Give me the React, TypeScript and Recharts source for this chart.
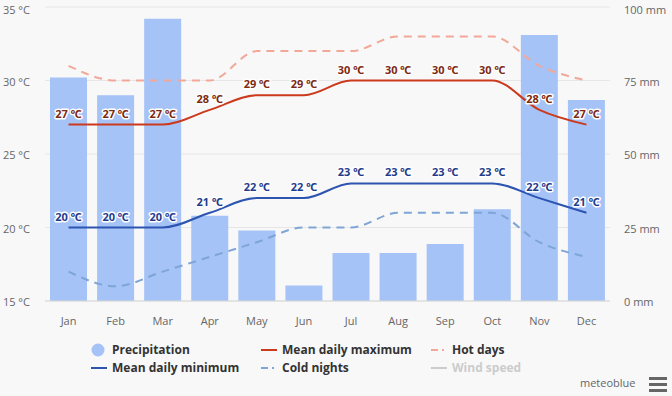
import React from 'react';
import {
  ComposedChart,
  Bar,
  Line,
  XAxis,
  YAxis,
  CartesianGrid,
  LabelList,
} from 'recharts';

const months = ['Jan', 'Feb', 'Mar', 'Apr', 'May', 'Jun', 'Jul', 'Aug', 'Sep', 'Oct', 'Nov', 'Dec'];
const precipitation = [76, 70, 96, 29, 24, 5.3, 16.3, 16.3, 19.4, 31.2, 90.5, 68.4];
const meanMax = [27, 27, 27, 28, 29, 29, 30, 30, 30, 30, 28, 27];
const meanMin = [20, 20, 20, 21, 22, 22, 23, 23, 23, 23, 22, 21];
const hotDays = [31, 30, 30, 30, 32, 32, 32, 33, 33, 33, 31, 30];
const coldNights = [17, 16, 17, 18, 19, 20, 20, 21, 21, 21, 19, 18];
const tempTicks = [15, 20, 25, 30, 35];
const precTicks = [0, 25, 50, 75, 100];

const data = months.map((m, i) => ({
  month: m,
  precip: precipitation[i],
  max: meanMax[i],
  min: meanMin[i],
  hot: hotDays[i],
  cold: coldNights[i],
}));

const FONT = '"Open Sans", "Noto Sans", sans-serif';

function tempLabel(color: string) {
  return (props: any) => {
    const { x, y, value } = props;
    return (
      <text
        x={x}
        y={y - 7}
        textAnchor="middle"
        fontSize={11}
        fontWeight="bold"
        fontFamily={FONT}
        fill={color}
        stroke="#ffffff"
        strokeWidth={3}
        strokeLinejoin="round"
        paintOrder="stroke"
      >
        {`${value} ℃`}
      </text>
    );
  };
}

// axis tick, sits ~1px below its grid line like the original
function axisTick(unit: string, anchor: 'start' | 'end') {
  return (props: any) => {
    const { x, y, payload } = props;
    return (
      <text x={x} y={y + 5} textAnchor={anchor} fontSize={11} fill="#666" fontFamily={FONT}>
        {`${payload.value} ${unit}`}
      </text>
    );
  };
}

const legendText: React.CSSProperties = {
  position: 'absolute',
  fontFamily: FONT,
  fontSize: 12,
  fontWeight: 'bold',
  color: '#333',
  lineHeight: '14px',
  whiteSpace: 'nowrap',
};

function LineIcon({ x, y, color, dashed }: { x: number; y: number; color: string; dashed?: boolean }) {
  return (
    <svg style={{ position: 'absolute', left: x, top: y - 3 }} width={16} height={6}>
      {dashed ? (
        <>
          <line x1={0} y1={3} x2={7} y2={3} stroke={color} strokeWidth={2} />
          <line x1={11} y1={3} x2={13} y2={3} stroke={color} strokeWidth={2} />
        </>
      ) : (
        <line x1={0} y1={3} x2={16} y2={3} stroke={color} strokeWidth={2} />
      )}
    </svg>
  );
}

export default function App() {
  return (
    <div
      style={{
        position: 'absolute',
        left: 0,
        top: 0,
        width: 672,
        height: 396,
        background: '#f8f8f8',
        overflow: 'hidden',
      }}
    >
      <ComposedChart
        width={672}
        height={396}
        data={data}
        margin={{ top: 7, right: 0, left: 0, bottom: 65 }}
      >
        <CartesianGrid yAxisId="t" vertical={false} stroke="#e6e6e6" />
        <XAxis
          dataKey="month"
          tickLine={false}
          axisLine={{ stroke: '#d8d8d8' }}
          tick={{ fontSize: 11, fill: '#666', fontFamily: FONT }}
          tickMargin={10}
          height={30}
        />
        <YAxis
          yAxisId="t"
          domain={[15, 35]}
          ticks={tempTicks}
          tick={axisTick('°C', 'end')}
          tickLine={false}
          axisLine={false}
          tickMargin={9}
          width={45}
        />
        <YAxis
          yAxisId="p"
          orientation="right"
          domain={[0, 100]}
          ticks={precTicks}
          tick={axisTick('mm', 'start')}
          tickLine={false}
          axisLine={false}
          tickMargin={8}
          width={62}
        />
        <Bar yAxisId="p" dataKey="precip" fill="#a5c3f6" barSize={37} isAnimationActive={false} />
        <Line
          yAxisId="t"
          type="monotone"
          dataKey="hot"
          stroke="#f2a898"
          strokeWidth={2}
          strokeDasharray="8 6"
          dot={false}
          isAnimationActive={false}
        />
        <Line
          yAxisId="t"
          type="monotone"
          dataKey="cold"
          stroke="#7ea5d6"
          strokeWidth={2}
          strokeDasharray="8 6"
          dot={false}
          isAnimationActive={false}
        />
        <Line
          yAxisId="t"
          type="monotone"
          dataKey="max"
          stroke="#cc3a1e"
          strokeWidth={2}
          dot={false}
          isAnimationActive={false}
        >
          <LabelList dataKey="max" content={tempLabel('#7c2a12')} />
        </Line>
        <Line
          yAxisId="t"
          type="monotone"
          dataKey="min"
          stroke="#2c54b0"
          strokeWidth={2}
          dot={false}
          isAnimationActive={false}
        >
          <LabelList dataKey="min" content={tempLabel('#1f3c8c')} />
        </Line>
      </ComposedChart>

      {/* legend */}
      <svg style={{ position: 'absolute', left: 91, top: 343 }} width={14} height={14}>
        <circle cx={7} cy={7} r={6.5} fill="#a5c3f6" />
      </svg>
      <div style={{ ...legendText, left: 112, top: 343 }}>Precipitation</div>
      <LineIcon x={261} y={350} color="#cc3a1e" />
      <div style={{ ...legendText, left: 282, top: 343 }}>Mean daily maximum</div>
      <LineIcon x={431} y={350} color="#f2a898" dashed />
      <div style={{ ...legendText, left: 452, top: 343 }}>Hot days</div>

      <LineIcon x={91} y={368} color="#2c54b0" />
      <div style={{ ...legendText, left: 112, top: 361 }}>Mean daily minimum</div>
      <LineIcon x={261} y={368} color="#7ea5d6" dashed />
      <div style={{ ...legendText, left: 282, top: 361 }}>Cold nights</div>
      <LineIcon x={431} y={368} color="#cccccc" />
      <div style={{ ...legendText, left: 452, top: 361, color: '#cccccc' }}>Wind speed</div>

      <div
        style={{
          position: 'absolute',
          left: 580,
          top: 376,
          fontFamily: FONT,
          fontSize: 11,
          color: '#666',
          lineHeight: '14px',
        }}
      >
        meteoblue
      </div>
      <svg style={{ position: 'absolute', left: 649, top: 376 }} width={18} height={16}>
        <rect x={0} y={1} width={18} height={3} fill="#666" />
        <rect x={0} y={7} width={18} height={3} fill="#666" />
        <rect x={0} y={13} width={18} height={3} fill="#666" />
      </svg>
    </div>
  );
}
